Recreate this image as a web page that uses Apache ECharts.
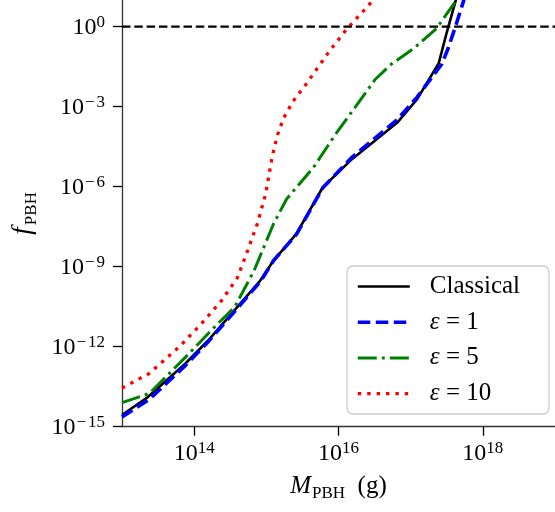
<!DOCTYPE html>
<html>
<head>
<meta charset="utf-8">
<style>html,body{margin:0;padding:0;background:#fff;}#c{width:555px;height:512px;}</style>
<script src="https://cdn.jsdelivr.net/npm/echarts@6/dist/echarts.min.js"></script>
</head>
<body>
<div id="c"></div>
<script>
// Data (M_PBH in grams, f_PBH dimensionless)
const massClassical = [1e13, 2.28e13, 7.57e13, 1.57e14, 3.61e14, 8.24e14, 1.26e15, 2.62e15, 6.03e15, 1.55e16, 6.61e16, 1.23e17, 2.45e17, 3.16e17, 4.17e17, 4.79e17];
const fClassical    = [2.75e-15, 1.29e-14, 2.34e-13, 1.74e-12, 2.29e-11, 3.02e-10, 1.70e-9, 1.74e-8, 9.33e-7, 1.10e-5, 2.63e-4, 1.91e-3, 4.27e-2, 0.603, 8.71, 33.1];

const massEps1 = [1e13, 2.4e13, 7.59e13, 1.58e14, 3.63e14, 8.32e14, 1.26e15, 2.63e15, 6.03e15, 1.55e16, 6.61e16, 1.23e17, 2.69e17, 3.31e17, 4.17e17, 5.37e17, 6.31e17];
const fEps1    = [2.29e-15, 1.07e-14, 2.0e-13, 1.58e-12, 2.09e-11, 2.82e-10, 1.70e-9, 1.66e-8, 8.91e-7, 1.29e-5, 3.39e-4, 2.29e-3, 3.89e-2, 0.155, 1.0, 8.71, 34.7];

const massEps5 = [1e13, 2.4e13, 7.59e13, 2.14e14, 3.63e14, 6.76e14, 1.26e15, 1.91e15, 4.47e15, 9.12e15, 3.24e16, 5.37e16, 1.12e17, 2.29e17, 4.17e17, 5.62e17];
const fEps5    = [7.94e-15, 1.78e-14, 4.07e-13, 7.41e-12, 3.02e-11, 7.08e-10, 4.07e-8, 3.47e-7, 5.13e-6, 9.33e-5, 1.07e-2, 3.89e-2, 0.158, 0.871, 8.71, 27.5];

const massEps10 = [1e13, 2.4e13, 6.17e13, 1.2e14, 2.4e14, 3.98e14, 5.5e14, 7.5e14, 9.77e14, 1.2e15, 1.41e15, 1.74e15, 2.34e15, 3.55e15, 7.41e15, 1.33e16, 2.51e16, 3.98e16];
const fEps10    = [2.82e-14, 1.0e-13, 9.77e-13, 6.31e-12, 5.37e-11, 3.89e-10, 3.98e-9, 4.07e-8, 5.25e-7, 1.23e-5, 7.94e-5, 3.80e-4, 1.58e-3, 6.92e-3, 0.117, 0.871, 5.62, 24.0];

const seriesNames = ['Classical', 'ε = 1', 'ε = 5', 'ε = 10'];
const xTicks = [1e14, 1e16, 1e18];
const yTicks = [1e-15, 1e-12, 1e-9, 1e-6, 1e-3, 1];
const refLineX = [1e13, 1e19];
const refLineY = [1, 1];

const FONT = 'Liberation Serif';
const pairs = (xs, ys) => xs.map((x, i) => [x, ys[i]]);

function powLabel(v) {
  const e = Math.round(Math.log10(v));
  if (e < 0) return '{b|10}{m|−}{s|' + (-e) + '}';
  return '{b|10}{s|' + e + '}';
}
const tickRich = {
  b: {fontFamily: FONT, fontSize: 24, lineHeight: 26, verticalAlign: 'bottom', color: '#000'},
  m: {fontFamily: FONT, fontSize: 17, lineHeight: 14, verticalAlign: 'top', color: '#000', padding: [0, 2, 0, 1]},
  s: {fontFamily: FONT, fontSize: 17, lineHeight: 14, verticalAlign: 'top', color: '#000'}
};

const styles = [
  {color: '#000000', width: 2.6, type: 'solid'},
  {color: '#0000ff', width: 3.6, type: [12.5, 5.5]},
  {color: '#008000', width: 3, type: [19, 5, 3, 5]},
  {color: '#ff0000', width: 3.3, type: [3.4, 6]}
];
const allData = [
  pairs(massClassical, fClassical),
  pairs(massEps1, fEps1),
  pairs(massEps5, fEps5),
  pairs(massEps10, fEps10)
];

const chart = echarts.init(document.getElementById('c'), null, {renderer: 'canvas'});
chart.setOption({
  animation: false,
  backgroundColor: '#fff',
  grid: {left: 122, right: -8, top: -1.5, bottom: 85.3},
  xAxis: {
    type: 'log', logBase: 10, min: 1e13, max: 1e19,
    name: '{i|M}{sub|PBH}{n|  (g)}',
    nameLocation: 'middle', nameGap: 46,
    nameTextStyle: {
      rich: {
        i: {fontFamily: FONT, fontStyle: 'italic', fontSize: 25, lineHeight: 26, verticalAlign: 'bottom', color: '#000'},
        sub: {fontFamily: FONT, fontSize: 17, lineHeight: 18, verticalAlign: 'bottom', color: '#000', padding: [0, 0, -3, 1]},
        n: {fontFamily: FONT, fontSize: 25, lineHeight: 26, verticalAlign: 'bottom', color: '#000'}
      }
    },
    axisLine: {lineStyle: {color: '#333', width: 1.3}},
    axisTick: {length: 9, lineStyle: {color: '#000', width: 1.3}, customValues: xTicks},
    minorTick: {show: false},
    axisLabel: {customValues: xTicks, formatter: powLabel, margin: 13, rich: tickRich},
    splitLine: {show: false}
  },
  yAxis: {
    type: 'log', logBase: 10, min: 1e-15, max: 10,
    name: '{i|f}{sub|PBH}',
    nameLocation: 'middle', nameGap: 80, nameRotate: 90,
    nameTextStyle: {
      rich: {
        i: {fontFamily: FONT, fontStyle: 'italic', fontSize: 27, lineHeight: 28, verticalAlign: 'bottom', color: '#000'},
        sub: {fontFamily: FONT, fontSize: 17, lineHeight: 18, verticalAlign: 'bottom', color: '#000', padding: [0, 0, -4, 2]}
      }
    },
    axisLine: {lineStyle: {color: '#333', width: 1.3}},
    axisTick: {length: 9, lineStyle: {color: '#000', width: 1.3}, customValues: yTicks},
    minorTick: {show: false},
    axisLabel: {customValues: yTicks, formatter: powLabel, margin: 17, rich: tickRich},
    splitLine: {show: false}
  },
  legend: {
    data: seriesNames.map((n, i) => ({name: n, lineStyle: {width: styles[i].width, type: styles[i].type, color: styles[i].color}})),
    orient: 'vertical', left: 356, top: 274, padding: 0,
    itemWidth: 52, itemHeight: 14, itemGap: 10.7,
    itemStyle: {opacity: 0, borderWidth: 0},
    formatter: name => name.startsWith('ε') ? '{e|ε}{n|' + name.slice(1) + '}' : '{n|' + name + '}',
    textStyle: {
      padding: [0, 0, 0, 15],
      rich: {
        e: {fontFamily: FONT, fontStyle: 'italic', fontSize: 25, lineHeight: 24, color: '#000'},
        n: {fontFamily: FONT, fontSize: 25, lineHeight: 24, color: '#000'}
      }
    }
  },
  graphic: [{
    type: 'rect', z: 3,
    shape: {x: 347, y: 266, width: 202, height: 148, r: 6},
    style: {fill: 'rgba(255,255,255,0.85)', stroke: '#cccccc', lineWidth: 1.3}
  }],
  series: seriesNames.map((n, i) => ({
    name: n, type: 'line', symbol: 'none', data: allData[i],
    lineStyle: styles[i], itemStyle: {color: styles[i].color}
  })).concat([
    {name: 'ref', type: 'line', symbol: 'none', data: pairs(refLineX, refLineY), silent: true,
     lineStyle: {color: '#000', width: 2.3, type: [8.5, 3.8]}}
  ])
});
</script>
</body>
</html>
